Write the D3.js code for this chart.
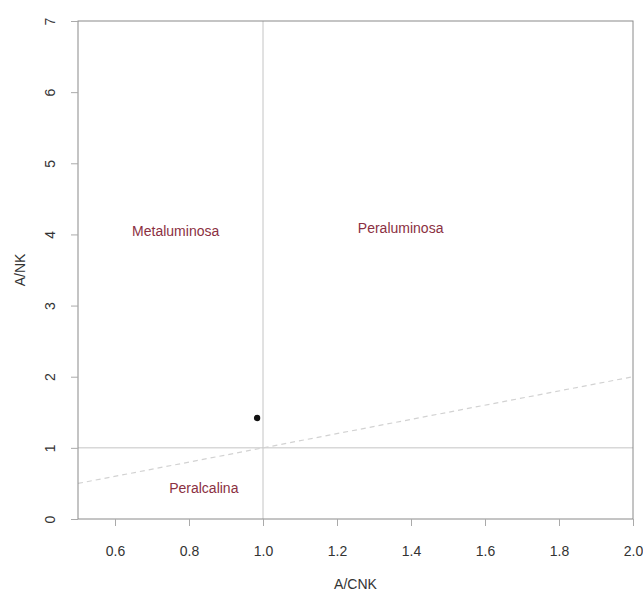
<!DOCTYPE html>
<html>
<head>
<meta charset="utf-8">
<script src="https://cdn.jsdelivr.net/npm/d3@7"></script>
<style>
  body { margin: 0; background: #fff; }
  text { font-family: "Liberation Sans", Arial, sans-serif; }
</style>
</head>
<body>
<div id="chart"></div>
<script>
// sample point (A/CNK, A/NK)
const samples = [{ acnk: 0.984, ank: 1.42 }];

const xTicks = [0.6, 0.8, 1.0, 1.2, 1.4, 1.6, 1.8, 2.0];
const yTicks = [0, 1, 2, 3, 4, 5, 6, 7];

const regions = [
  { label: "Metaluminosa", x: 0.764, y: 4.04 },
  { label: "Peraluminosa", x: 1.372, y: 4.09 },
  { label: "Peralcalina", x: 0.84, y: 0.44 }
];

// reference lines
const vLine = 1.0;
const hLine = 1.0;
const diag = [[0.5, 0.5], [2.0, 2.0]];

const W = 643, H = 593;
const pL = 78, pR = 633, pT = 21, pB = 519;

const svg = d3.select("#chart").append("svg")
  .attr("width", W)
  .attr("height", H);

const x = d3.scaleLinear()
  .domain([0.5, 2.0])
  .range([pL, pR]);

const y = d3.scaleLinear()
  .domain([0, 7])
  .range([pB, pT]);

// reference lines
svg.append("line")
  .attr("x1", x(vLine)).attr("x2", x(vLine))
  .attr("y1", pT).attr("y2", pB)
  .attr("stroke", "#c4c4c4").attr("stroke-width", 1);

svg.append("line")
  .attr("x1", pL).attr("x2", pR)
  .attr("y1", y(hLine)).attr("y2", y(hLine))
  .attr("stroke", "#c4c4c4").attr("stroke-width", 1);

svg.append("path")
  .attr("d", d3.line().x(d => x(d[0])).y(d => y(d[1]))(diag))
  .attr("fill", "none")
  .attr("stroke", "#d2d2d2")
  .attr("stroke-width", 1.2)
  .attr("stroke-dasharray", "5,4");

// box
svg.append("rect")
  .attr("x", pL).attr("y", pT)
  .attr("width", pR - pL).attr("height", pB - pT)
  .attr("fill", "none")
  .attr("stroke", "#8a8a8a").attr("stroke-width", 1);

// axes
const xAxis = svg.append("g")
  .attr("transform", `translate(0,${pB})`)
  .call(d3.axisBottom(x).tickValues(xTicks).tickFormat(d3.format(".1f")).tickSize(7).tickPadding(20));
xAxis.select(".domain").remove();
xAxis.selectAll("line").attr("stroke", "#aaa");
xAxis.selectAll("text").attr("fill", "#333").style("font-size", "14px");

const yAxis = svg.append("g")
  .attr("transform", `translate(${pL},0)`)
  .call(d3.axisLeft(y).tickValues(yTicks).tickFormat(d3.format("d")).tickSize(7));
yAxis.select(".domain").remove();
yAxis.selectAll("line").attr("stroke", "#aaa");
yAxis.selectAll("text")
  .attr("fill", "#333")
  .style("font-size", "14px")
  .attr("x", null).attr("dy", null)
  .attr("text-anchor", "middle")
  .attr("transform", "translate(-23,0) rotate(-90)");

// axis titles
svg.append("text")
  .attr("x", (pL + pR) / 2).attr("y", 589)
  .attr("text-anchor", "middle")
  .attr("fill", "#333").style("font-size", "14px")
  .text("A/CNK");

svg.append("text")
  .attr("transform", `translate(25,${(pT + pB) / 2}) rotate(-90)`)
  .attr("text-anchor", "middle")
  .attr("fill", "#333").style("font-size", "14px")
  .text("A/NK");

// region labels
svg.selectAll(".region")
  .data(regions)
  .enter()
  .append("text")
  .attr("class", "region")
  .attr("x", d => x(d.x))
  .attr("y", d => y(d.y))
  .attr("dy", "0.35em")
  .attr("text-anchor", "middle")
  .attr("fill", "#8b3042")
  .style("font-size", "14px")
  .text(d => d.label);

// points
svg.selectAll(".pt")
  .data(samples)
  .enter()
  .append("circle")
  .attr("class", "pt")
  .attr("cx", d => x(d.acnk))
  .attr("cy", d => y(d.ank))
  .attr("r", 3.2)
  .attr("fill", "#111");
</script>
</body>
</html>
